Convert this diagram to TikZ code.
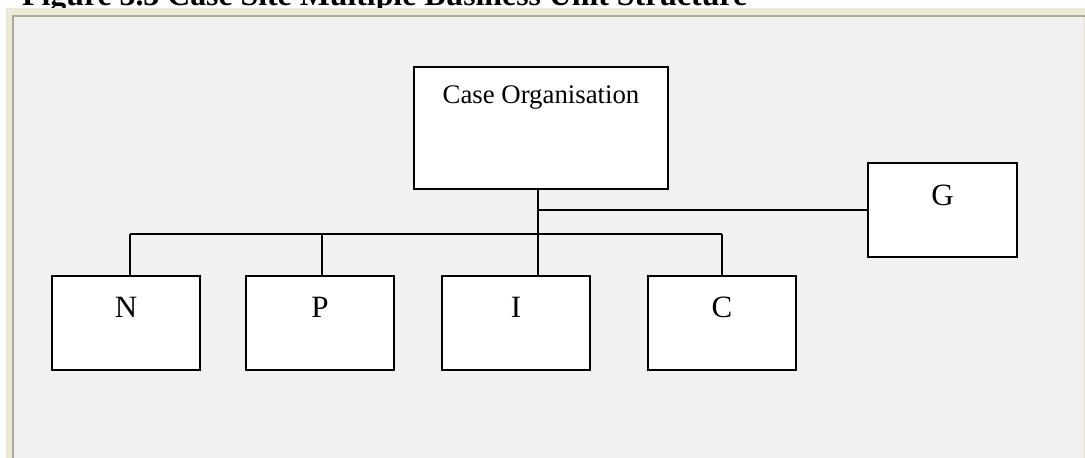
\documentclass[tikz,border=0pt]{standalone}
\usepackage{fontspec}
\setmainfont{Liberation Serif}
\definecolor{panel}{HTML}{F1F1F1}
\definecolor{beige}{HTML}{ECE9D8}
\definecolor{edge}{HTML}{ACA899}
\tikzset{
  unitbox/.style={draw=black, line width=1.8pt, fill=white, rectangle, inner sep=0pt, outer sep=0pt},
  bigbox/.style={unitbox, minimum width=254pt, minimum height=122pt},
  smallbox/.style={unitbox, minimum width=148pt, minimum height=94pt},
  link/.style={draw=black, line width=1.5pt},
  lbl/.style={anchor=base, inner sep=0pt, font=\fontsize{31}{31}\selectfont},
}
\begin{document}
\begin{tikzpicture}[x=1pt, y=-1pt]
\useasboundingbox (0,0) rectangle (1085,458);
\clip (0,0) rectangle (1085,458);
\fill[white] (0,0) rectangle (1085,458);
% title (cut off at top)
\node[anchor=base west, inner sep=0pt, font=\bfseries\fontsize{31.8}{32}\selectfont] (title) at (22,5) {Figure 3.3 Case Site Multiple Business Unit Structure};
% panel
\fill[beige] (5.5,7.5) rectangle (1085,460);
\fill[panel] (12,15) rectangle (1083,460);
\fill[edge] (12,15) rectangle (1085,16.5);
\fill[edge] (12,15) rectangle (14,460);
% boxes
\node[bigbox] (org) at (541,128) {};
\node[lbl, font=\fontsize{26.8}{27}\selectfont] (orgt) at ([yshift=-36.5pt]org.north) {Case Organisation};
\node[unitbox, minimum width=149pt, minimum height=94pt] (g) at (942.5,210) {};
\node[lbl] (gt) at ([yshift=-42pt]g.north) {G};
\node[smallbox] (n) at (126,323) {};
\node[smallbox] (p) at (320,323) {};
\node[smallbox] (i) at (516,323) {};
\node[smallbox] (c) at (722,323) {};
\node[lbl] (nt) at ([yshift=-41pt]n.north) {N};
\node[lbl] (pt) at ([yshift=-41pt]p.north) {P};
\node[lbl] (it) at ([yshift=-41pt]i.north) {I};
\node[lbl] (ct) at ([yshift=-41pt]c.north) {C};
% connectors
\coordinate (stem) at (538,0);
\coordinate (bus) at (0,234);
\coordinate (gj) at (538,210);
\path[link] (org.south -| stem) -- (i.north -| stem);
\path[link] (gj) -- (g.west);
\path[link] (130,234) -- (722,234);
\path[link] (n.north -| 130,0) -- (130,234);
\path[link] (p.north -| 322,0) -- (322,234);
\path[link] (c.north) -- (c.north |- bus);
\end{tikzpicture}
\end{document}
